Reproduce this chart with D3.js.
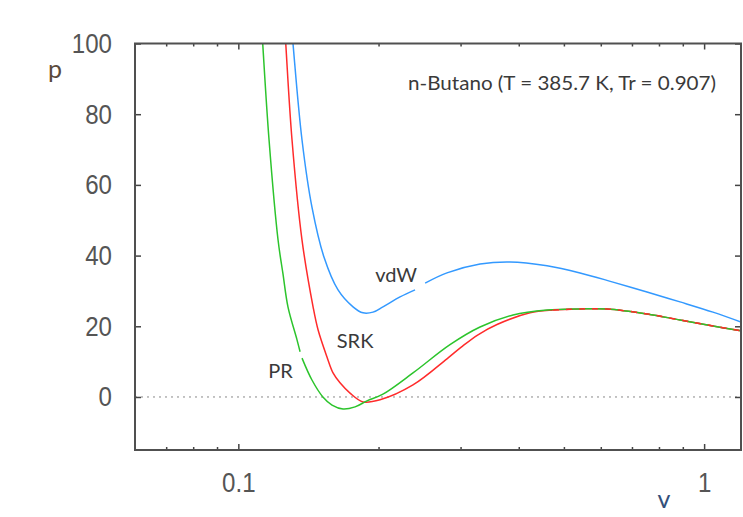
<!DOCTYPE html>
<html>
<head>
<meta charset="utf-8">
<script src="https://cdn.jsdelivr.net/npm/d3@7"></script>
<style>
  html, body { margin: 0; padding: 0; background: #fff; }
  svg { display: block; }
</style>
</head>
<body>
<svg id="chart" width="743" height="517"></svg>
<script>
// ---- data ----
// van der Waals
const vdwV = [0.127, 0.1310, 0.1370, 0.1439, 0.1527, 0.1637, 0.1763, 0.1852, 0.1946, 0.2044, 0.2224, 0.2395, null, 0.2518, 0.2805, 0.3303, 0.3830, 0.4600, 0.5415, 0.6373, 0.7539, 0.8876, 1.0447, 1.2];
const vdwP = [122, 100.1, 72.7, 53.7, 39.6, 30.3, 25.5, 23.8, 24.0, 25.5, 28.3, 30.3, null, 32.2, 35.1, 37.6, 38.2, 37.1, 35.1, 32.5, 29.7, 26.9, 24.0, 21.2];
// Soave-Redlich-Kwong
const srkV = [0.122, 0.1264, 0.1304, 0.1370, 0.1447, 0.1483, 0.1550, 0.1597, 0.1653, 0.1737, 0.1852, 0.2015, 0.2371, 0.2805, 0.3010, 0.3270, 0.3592, 0.4229, 0.4739, 0.5415, 0.6187, 0.7539, 0.8876, 1.0447, 1.2];
const srkP = [135, 100.1, 72.7, 44.4, 25.5, 19.0, 11.3, 6.8, 4.0, 1.1, -1.4, -0.8, 3.4, 10.8, 14.1, 17.6, 20.5, 23.8, 24.6, 24.9, 24.9, 23.5, 21.8, 20.1, 18.7];
// Peng-Robinson
const prV = [0.109, 0.1128, 0.1164, 0.1217, 0.1247, 0.1278, 0.1337, 0.1357, null, 0.1370, 0.1439, 0.1519, 0.1589, 0.1678, 0.1781, 0.1889, 0.2044, 0.2371, 0.2847, 0.3303, 0.3889, 0.4600, 0.5415, 0.6187, 0.7539, 0.8876, 1.0447, 1.2];
const prP = [134, 100.1, 72.7, 44.4, 34.8, 25.5, 16.1, 12.8, null, 11.0, 4.8, 0.0, -2.3, -3.4, -2.8, -1.1, 0.8, 6.8, 14.8, 19.8, 23.2, 24.6, 24.9, 24.9, 23.5, 21.8, 20.1, 18.7];
// SRK points where it lies on top of PR (drawn dashed over it)
const srkOverlapFrom = 0.4739;

const seriesNames = ["vdW", "SRK", "PR"];
const labelV = [0.2181, 0.1781, 0.1232];
const labelP = [32.5, 13.9, 5.4];
const xMajorTicks = [0.1, 1];
const xMinorTicks = [0.07, 0.08, 0.09, 0.2, 0.3, 0.4, 0.5, 0.6, 0.7, 0.8, 0.9];
const yTicks = [0, 20, 40, 60, 80, 100];
const xDomain = [0.06, 1.2];
const yDomain = [-15, 100];
const titleText = "n-Butano (T = 385.7 K, Tr = 0.907)";

// ---- layout ----
const svg = d3.select("#chart");
const L = 135, R = 741, T = 43.5, B = 450;
const x = d3.scaleLog().domain(xDomain).range([L, R]);
const y = d3.scaleLinear().domain(yDomain).range([B, T]);

const tickFont = "'Liberation Sans', Arial, sans-serif";
const labelFont = "Lato, 'Open Sans', 'Liberation Sans', sans-serif";

svg.append("defs").append("clipPath").attr("id", "plotclip")
  .append("rect").attr("x", L).attr("y", T).attr("width", R - L).attr("height", B - T);

// zero line
svg.append("line")
  .attr("x1", L).attr("x2", R).attr("y1", y(0)).attr("y2", y(0))
  .attr("stroke", "#888").attr("stroke-width", 1).attr("stroke-dasharray", "2,4");

// axes (ticks inward, mirrored)
function styleAxis(g, labels) {
  g.select(".domain").remove();
  g.selectAll(".tick line").attr("stroke", "#444").attr("stroke-width", 1.5);
  const t = g.selectAll(".tick text").attr("fill", labels ? "#555" : "none")
    .style("font-family", tickFont).style("font-size", "28px");
  if (labels) {
    t.each(function () {
      const w = this.getComputedTextLength();
      d3.select(this).attr("textLength", w * 0.86).attr("lengthAdjust", "spacingAndGlyphs");
    });
  }
}
svg.append("g").attr("transform", `translate(0,${B})`)
  .call(d3.axisBottom(x).tickValues(xMajorTicks).tickSize(-6).tickPadding(22).tickFormat(d3.format("")))
  .call(g => styleAxis(g, true));
svg.append("g").attr("transform", `translate(0,${B})`)
  .call(d3.axisBottom(x).tickValues(xMinorTicks).tickSize(-3).tickFormat(""))
  .call(g => styleAxis(g, false));
svg.append("g").attr("transform", `translate(0,${T})`)
  .call(d3.axisTop(x).tickValues(xMajorTicks).tickSize(-6).tickFormat(""))
  .call(g => styleAxis(g, false));
svg.append("g").attr("transform", `translate(0,${T})`)
  .call(d3.axisTop(x).tickValues(xMinorTicks).tickSize(-3).tickFormat(""))
  .call(g => styleAxis(g, false));
svg.append("g").attr("transform", `translate(${L},0)`)
  .call(d3.axisLeft(y).tickValues(yTicks).tickSize(-6).tickPadding(23))
  .call(g => styleAxis(g, true));
svg.append("g").attr("transform", `translate(${R},0)`)
  .call(d3.axisRight(y).tickValues(yTicks).tickSize(-6).tickFormat(""))
  .call(g => styleAxis(g, false));

// curves
function toPts(vs, ps) { return vs.map((v, i) => ({ v: v, p: ps[i] })); }
const line = d3.line()
  .defined(d => d.v !== null && d.p !== null)
  .x(d => x(d.v)).y(d => y(d.p))
  .curve(d3.curveCatmullRom.alpha(0.5));

const srkColor = "#ff2b2b", vdwColor = "#3399ff", prColor = "#2cc42c";
const curves = [
  { name: "SRK", pts: toPts(srkV, srkP), color: srkColor },
  { name: "vdW", pts: toPts(vdwV, vdwP), color: vdwColor },
  { name: "PR",  pts: toPts(prV, prP),  color: prColor }
];
const cg = svg.append("g").attr("clip-path", "url(#plotclip)");
curves.forEach(c => {
  cg.append("path").datum(c.pts)
    .attr("d", line)
    .attr("fill", "none")
    .attr("stroke", c.color)
    .attr("stroke-width", 1.5)
    .attr("stroke-linejoin", "round");
});
// red dashes visible where SRK coincides with PR
cg.append("path").datum(toPts(srkV, srkP).filter(d => d.v >= srkOverlapFrom))
  .attr("d", line)
  .attr("fill", "none")
  .attr("stroke", srkColor)
  .attr("stroke-width", 1.5)
  .attr("stroke-dasharray", "6,7");

// frame
svg.append("rect").attr("x", L).attr("y", T).attr("width", R - L).attr("height", B - T)
  .attr("fill", "none").attr("stroke", "#505050").attr("stroke-width", 2);

// curve labels (anchored to data positions)
seriesNames.forEach((name, i) => {
  svg.append("text").attr("x", x(labelV[i])).attr("y", y(labelP[i]))
    .attr("text-anchor", "middle")
    .style("font-family", labelFont).style("font-size", "20px")
    .attr("fill", "#3a3a3a").text(name);
});

// annotation
svg.append("text").attr("x", 408).attr("y", 90)
  .attr("textLength", 308).attr("lengthAdjust", "spacingAndGlyphs")
  .style("font-family", labelFont).style("font-size", "19px")
  .attr("fill", "#3a3a3a").text(titleText);

// axis titles
svg.append("text").attr("x", 55).attr("y", 78).attr("text-anchor", "middle")
  .style("font-family", labelFont).style("font-size", "25px")
  .attr("fill", "#5a4a3c").text("p");
svg.append("text").attr("x", 664).attr("y", 508).attr("text-anchor", "middle")
  .style("font-family", labelFont).style("font-size", "25px")
  .attr("fill", "#33507a").text("v");
</script>
</body>
</html>
